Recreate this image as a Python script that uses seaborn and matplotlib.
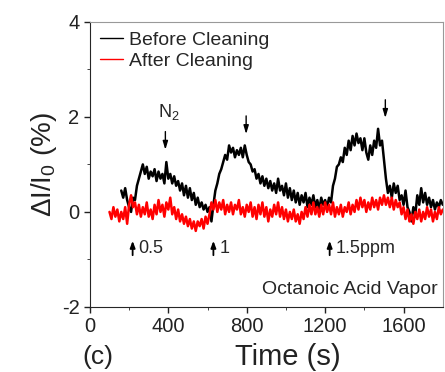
import numpy as np
import pandas as pd
import seaborn as sns
import matplotlib.pyplot as plt

# Datos (paso de 10 s)
t_before = np.arange(160, 1801, 10)
before = [
    0.45, 0.30, 0.50, 0.25, 0.10, 0.00, 0.30, 0.25, 0.55, 0.70,
    0.85, 1.00, 0.80, 0.95, 0.70, 0.85, 0.75, 0.90, 0.65, 0.85,
    0.70, 0.80, 0.60, 1.05, 0.70, 0.80, 0.60, 0.75, 0.55, 0.65,
    0.45, 0.60, 0.35, 0.55, 0.30, 0.50, 0.25, 0.40, 0.15, 0.30,
    0.10, 0.20, 0.05, 0.15, 0.00, 0.10, -0.20, 0.15, 0.45, 0.60,
    0.80, 0.90, 1.05, 1.20, 1.10, 1.40, 1.25, 1.35, 1.15, 1.30,
    1.20, 1.35, 1.15, 1.40, 1.20, 1.05, 1.00, 0.85, 0.90, 0.70,
    0.80, 0.60, 0.75, 0.55, 0.70, 0.50, 0.65, 0.45, 0.60, 0.40,
    0.70, 0.45, 0.55, 0.35, 0.60, 0.30, 0.50, 0.25, 0.45, 0.20,
    0.40, 0.15, 0.35, 0.20, 0.40, 0.10, 0.30, 0.15, 0.35, 0.10,
    0.25, 0.05, 0.30, 0.15, 0.25, 0.10, 0.30, 0.20, 0.55, 0.70,
    0.95, 1.00, 1.15, 1.05, 1.35, 1.20, 1.50, 1.30, 1.60, 1.40,
    1.65, 1.45, 1.55, 1.30, 1.55, 1.25, 1.10, 1.40, 1.20, 1.50,
    1.35, 1.75, 1.40, 1.50, 1.10, 0.70, 0.40, 0.55, 0.30, 0.60,
    0.40, 0.55, 0.25, 0.35, 0.15, 0.45, 0.10, 0.00, -0.20, 0.10,
    -0.05, 0.35, 0.15, 0.50, 0.20, 0.40, 0.15, 0.30, 0.10, 0.25,
    0.05, 0.20, 0.10, 0.25, 0.15,
]

t_after = np.arange(100, 1801, 10)
after = [
    0.00, -0.15, 0.10, -0.10, 0.05, -0.20, 0.00, -0.15, 0.10, -0.25,
    0.15, 0.35, 0.10, 0.20, -0.05, 0.15, -0.10, 0.10, -0.05, 0.20,
    -0.10, 0.05, -0.15, 0.15, -0.05, 0.25, 0.00, 0.15, -0.10, 0.20,
    0.05, 0.30, -0.05, 0.10, -0.15, 0.05, -0.20, -0.05, -0.25, -0.10,
    -0.30, -0.15, -0.35, -0.20, -0.40, -0.20, -0.30, -0.15, -0.35, -0.10,
    -0.25, -0.05, 0.20, 0.05, 0.25, 0.00, 0.20, 0.05, 0.25, -0.05,
    0.15, 0.00, 0.20, -0.05, 0.15, 0.05, 0.25, -0.05, 0.10, -0.10,
    0.15, 0.00, 0.20, -0.10, 0.10, -0.15, 0.15, -0.05, 0.20, -0.10,
    0.10, -0.20, 0.05, -0.10, 0.15, -0.05, 0.20, -0.10, 0.10, -0.15,
    0.05, -0.20, 0.00, -0.15, 0.05, -0.20, -0.05, -0.25, 0.00, -0.15,
    0.10, -0.10, 0.15, -0.05, 0.20, -0.05, 0.10, -0.10, 0.15, -0.05,
    0.20, 0.00, 0.15, -0.05, 0.20, -0.10, 0.10, -0.05, 0.15, -0.10,
    0.10, 0.00, 0.20, -0.05, 0.15, 0.00, 0.25, 0.05, 0.30, 0.10,
    0.25, 0.00, 0.20, 0.05, 0.30, 0.10, 0.25, 0.05, 0.30, 0.15,
    0.35, 0.15, 0.30, 0.10, 0.30, 0.05, 0.25, 0.10, 0.20, -0.05,
    0.10, -0.15, 0.05, -0.20, -0.05, -0.25, 0.00, -0.15, 0.05, -0.20,
    0.00, -0.15, 0.10, -0.10, 0.05, -0.20, 0.00, -0.15, 0.10, -0.05,
    0.05,
]

# flechas: N2 (bajada) y concentraciones (subida)
off_times = [385, 797, 1507]
off_tops = [1.75, 2.08, 2.42]
on_times = [218, 630, 1223]
on_labels = ["0.5", "1", "1.5ppm"]

sns.set_style('ticks')
plt.rcParams['font.family'] = ['Liberation Sans', 'DejaVu Sans']
plt.rcParams['mathtext.default'] = 'regular'
plt.rcParams['axes.unicode_minus'] = False

fig = plt.figure(figsize=(4.45, 3.72), dpi=100)
ax = fig.add_axes([0.202, 0.175, 0.793, 0.766])

sns.lineplot(x=t_before, y=before, color='black', lw=1.8, ax=ax, label='Before Cleaning')
sns.lineplot(x=t_after, y=after, color='red', lw=1.8, ax=ax, label='After Cleaning')

ax.set_xlim(0, 1800)
ax.set_ylim(-2, 4)
ax.set_xticks([0, 400, 800, 1200, 1600])
ax.set_xticks([200, 600, 1000, 1400], minor=True)
ax.set_yticks([-2, 0, 2, 4])
ax.set_yticks([-1, 1, 3], minor=True)
ax.tick_params(labelsize=14.5, length=4, width=1, direction='out', colors='#222222')
ax.tick_params(which='minor', length=2.5)
for s in ['top', 'right']:
    ax.spines[s].set_color('#999999')

ax.set_ylabel('ΔI/I$_0$ (%)', fontsize=20, labelpad=2, color='#222222')
fig.text(0.647, 0.04, 'Time (s)', fontsize=21, ha='center', va='center', color='#222222')
fig.text(0.22, 0.04, '(c)', fontsize=19, ha='center', va='center', color='#222222')

leg = ax.legend(loc='upper left', frameon=False, fontsize=14, handlelength=1.2,
                handletextpad=0.3, borderaxespad=0.1, labelspacing=0.15)
for line in leg.get_lines():
    line.set_linewidth(1.0)

for t, top in zip(off_times, off_tops):
    ax.annotate('', xy=(t, top - 0.5), xytext=(t, top),
                arrowprops=dict(arrowstyle='-|>,head_length=0.5,head_width=0.15', color='black', lw=1))
ax.text(405, 2.1, 'N$_2$', fontsize=13, ha='center', va='center')

for t, lab in zip(on_times, on_labels):
    ax.annotate('', xy=(t, -0.55), xytext=(t, -0.97),
                arrowprops=dict(arrowstyle='-|>,head_length=0.4,head_width=0.15', color='black', lw=1.3))
    ax.text(t + 30, -0.76, lab, fontsize=13, ha='left', va='center')

ax.text(1775, -1.63, 'Octanoic Acid Vapor', fontsize=14, ha='right', va='center')

fig.savefig('out.png', dpi=100)
